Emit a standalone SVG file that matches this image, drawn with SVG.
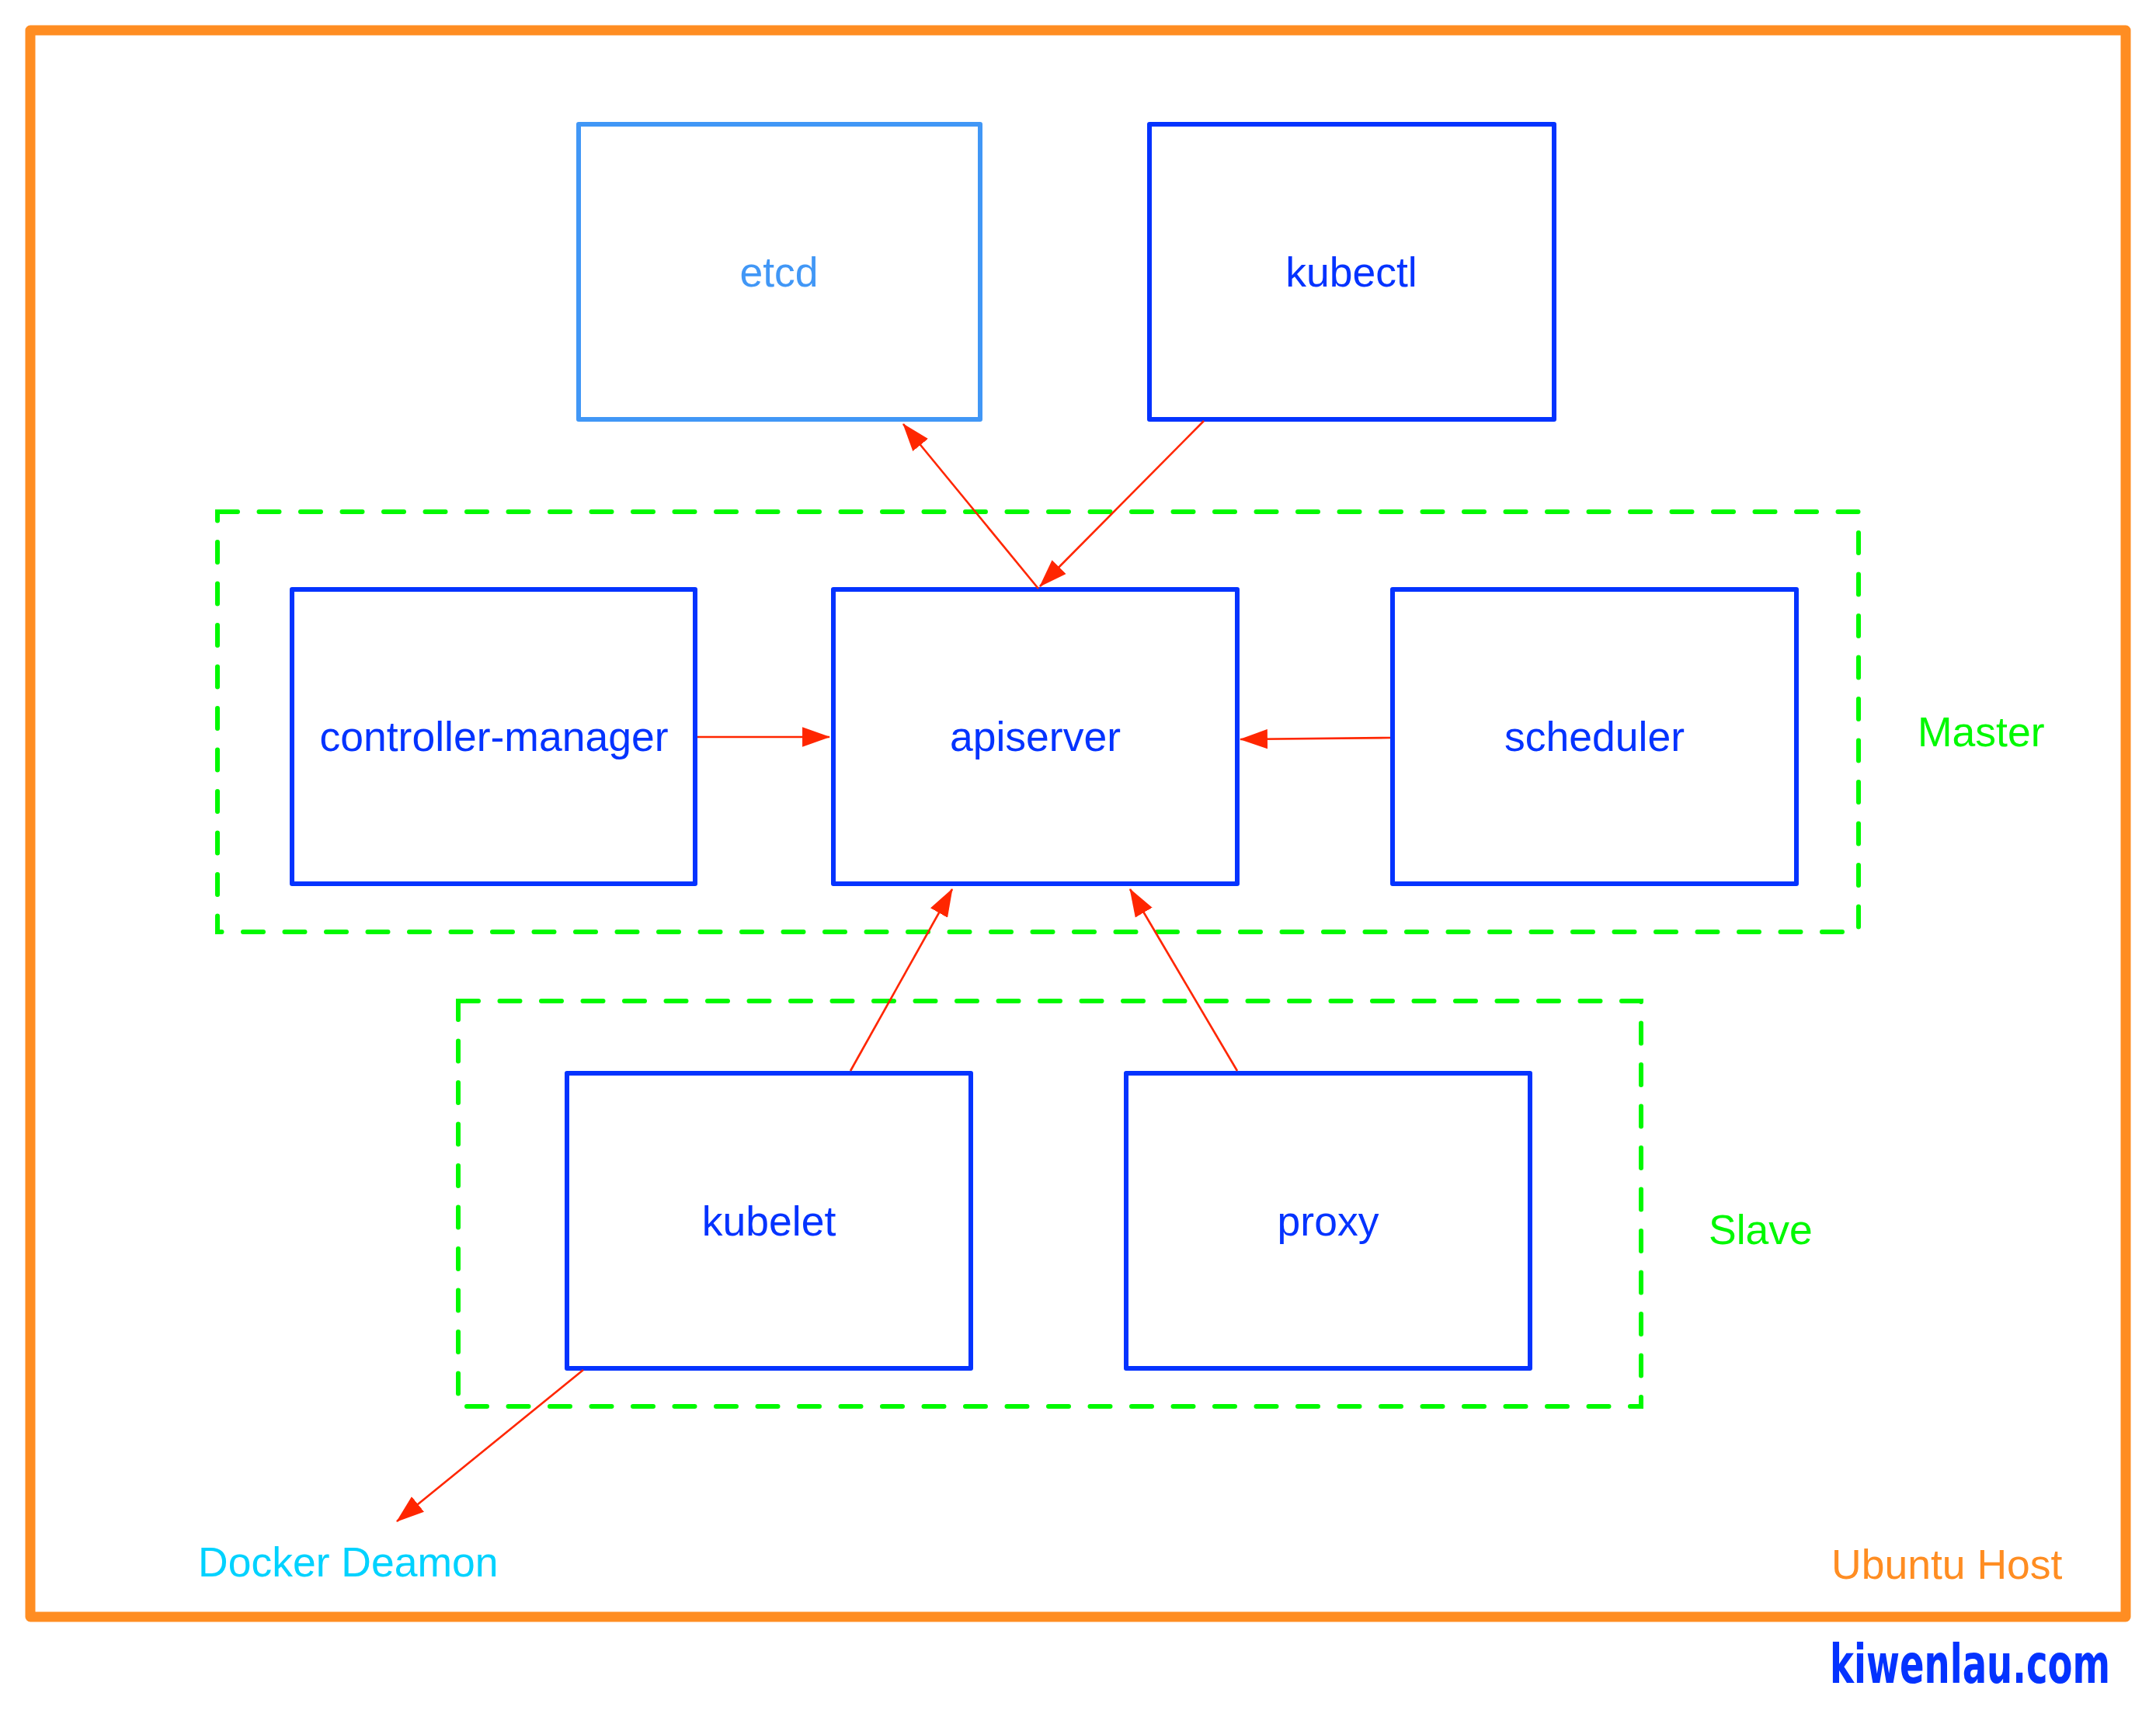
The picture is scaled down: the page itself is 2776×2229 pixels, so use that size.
<svg xmlns="http://www.w3.org/2000/svg" width="2776" height="2229" viewBox="0 0 2776 2229">
<style>
.box{fill:none;stroke:#0433FF;stroke-width:6;stroke-linejoin:round}
.grp{fill:none;stroke:#00F900;stroke-width:6;stroke-linecap:round;stroke-dasharray:26 27.5}
.lbl{font-family:"Liberation Sans",Arial,Helvetica,sans-serif;font-size:53.5px}
.blue{fill:#0433FF}
.conn{stroke:#FF2600;stroke-width:2.6;fill:none}
</style>
<defs>
<marker id="ah" markerUnits="userSpaceOnUse" markerWidth="36" markerHeight="26" viewBox="0 0 34 24" refX="33" refY="12" orient="auto">
<path d="M0,0 L34,12 L0,24 z" fill="#FF2600"/>
</marker>
</defs>
<rect width="2776" height="2229" fill="#FFFFFF"/>
<g id="ubuntu-host">
<rect x="39" y="39" width="2698" height="2043" fill="none" stroke="#FF8D22" stroke-width="13" stroke-linejoin="round"/>
<text class="lbl" x="2358" y="2033" fill="#FF8D22">Ubuntu Host</text>
</g>
<g id="master">
<rect class="grp" x="280" y="659" width="2113" height="541"/>
<text class="lbl" x="2469" y="961" fill="#00F900">Master</text>
</g>
<g id="slave">
<rect class="grp" x="590" y="1289" width="1523" height="522"/>
<text class="lbl" x="2200" y="1602" fill="#00F900">Slave</text>
</g>
<g id="etcd">
<rect x="745" y="160" width="517" height="380" fill="none" stroke="#4197F6" stroke-width="6" stroke-linejoin="round"/>
<text class="lbl" x="1003" y="369" fill="#4197F6" text-anchor="middle">etcd</text>
</g>
<g id="kubectl">
<rect class="box" x="1480" y="160" width="521" height="380"/>
<text class="lbl blue" x="1740" y="369" text-anchor="middle">kubectl</text>
</g>
<g id="controller-manager">
<rect class="box" x="376" y="759" width="519" height="379"/>
<text class="lbl blue" x="636" y="967" text-anchor="middle">controller-manager</text>
</g>
<g id="apiserver">
<rect class="box" x="1073" y="759" width="520" height="379"/>
<text class="lbl blue" x="1333" y="967" text-anchor="middle">apiserver</text>
</g>
<g id="scheduler">
<rect class="box" x="1793" y="759" width="520" height="379"/>
<text class="lbl blue" x="2053" y="967" text-anchor="middle">scheduler</text>
</g>
<g id="kubelet">
<rect class="box" x="730" y="1382" width="520" height="380"/>
<text class="lbl blue" x="990" y="1591" text-anchor="middle">kubelet</text>
</g>
<g id="proxy">
<rect class="box" x="1450" y="1382" width="520" height="380"/>
<text class="lbl blue" x="1710" y="1591" text-anchor="middle">proxy</text>
</g>
<g id="docker-deamon">
<text class="lbl" x="255" y="2030" fill="#00D2FF">Docker Deamon</text>
</g>
<g id="connectors">
<line class="conn" x1="898" y1="949" x2="1068" y2="949" marker-end="url(#ah)"/>
<line class="conn" x1="1790" y1="950" x2="1597" y2="952" marker-end="url(#ah)"/>
<line class="conn" x1="1337" y1="758" x2="1163" y2="546" marker-end="url(#ah)"/>
<line class="conn" x1="1550" y1="542" x2="1339" y2="755" marker-end="url(#ah)"/>
<line class="conn" x1="1095" y1="1379" x2="1226" y2="1145" marker-end="url(#ah)"/>
<line class="conn" x1="1593" y1="1379" x2="1455" y2="1145" marker-end="url(#ah)"/>
<line class="conn" x1="751" y1="1764" x2="511" y2="1959" marker-end="url(#ah)"/>
</g>
<g id="watermark">
<text transform="translate(2717,2167) scale(0.665,1)" x="0" y="0" text-anchor="end" fill="#0433FF" font-family="'DejaVu Sans',sans-serif" font-weight="bold" font-size="70">kiwenlau.com</text>
</g>
</svg>
